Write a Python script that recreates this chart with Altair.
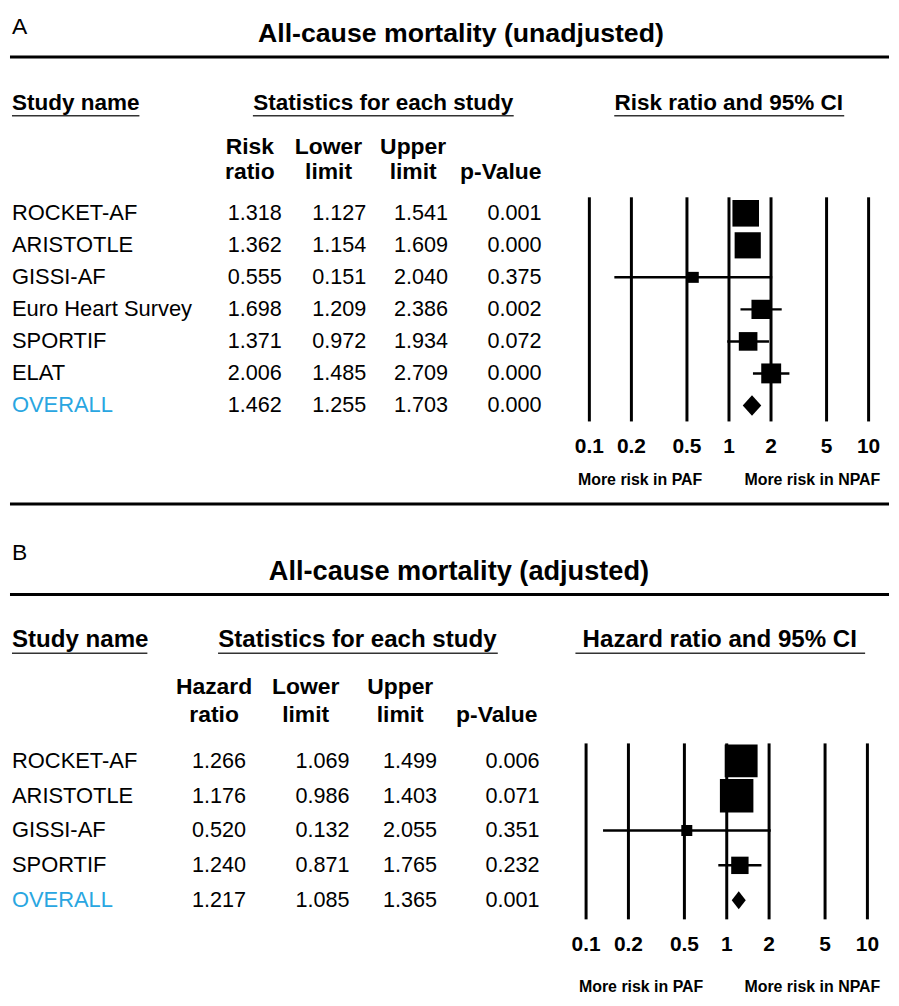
import altair as alt
import pandas as pd

# ---------------- data (panel A: unadjusted) ----------------
studies_a = ["ROCKET-AF", "ARISTOTLE", "GISSI-AF", "Euro Heart Survey", "SPORTIF", "ELAT", "OVERALL"]
rr_a = [1.318, 1.362, 0.555, 1.698, 1.371, 2.006, 1.462]
lo_a = [1.127, 1.154, 0.151, 1.209, 0.972, 1.485, 1.255]
hi_a = [1.541, 1.609, 2.040, 2.386, 1.934, 2.709, 1.703]
p_a = [0.001, 0.000, 0.375, 0.002, 0.072, 0.000, 0.000]
weight_a = [26.9, 26.1, 4.6, 14.1, 13.2, 15.1]  # relative weight (%)

# ---------------- data (panel B: adjusted) ----------------
studies_b = ["ROCKET-AF", "ARISTOTLE", "GISSI-AF", "SPORTIF", "OVERALL"]
hr_b = [1.266, 1.176, 0.520, 1.240, 1.217]
lo_b = [1.069, 0.986, 0.132, 0.871, 1.085]
hi_b = [1.499, 1.403, 2.055, 1.765, 1.365]
p_b = [0.006, 0.071, 0.351, 0.232, 0.001]
weight_b = [41.2, 42.7, 4.6, 11.5]

ticks = [0.1, 0.2, 0.5, 1, 2, 5, 10]
tick_labels = ["0.1", "0.2", "0.5", "1", "2", "5", "10"]

SANS = "'Liberation Sans', Arial, sans-serif"
BLUE = "#29a6e1"
W = 883

one = pd.DataFrame({"k": [0]})


def txt(s, x, y, size, bold=False, align="left", color="black"):
    return alt.Chart(one).mark_text(
        text=s, align=align, baseline="middle", fontSize=size,
        fontWeight="bold" if bold else "normal", font=SANS, color=color
    ).encode(x=alt.value(x), y=alt.value(y))


def hline(x1, x2, y, w, color="black"):
    return alt.Chart(one).mark_rule(strokeWidth=w, color=color).encode(
        x=alt.value(x1), x2=alt.value(x2), y=alt.value(y))


def panel(letter, title, ci_hdr, col1, studies, est, lo, hi, p, weight, L):
    n = len(studies)
    df = pd.DataFrame({"study": studies, "row": list(range(n)), "est": est,
                       "lo": lo, "hi": hi, "p": p})
    sdf = df[df.study != "OVERALL"].copy()
    sdf["w"] = weight
    ov = df[df.study == "OVERALL"].iloc[0]
    r, h = ov["row"], L["dh"]
    dia = pd.DataFrame({"x": [ov["lo"], ov["est"], ov["hi"]],
                        "ya": [r, r - h, r], "yb": [r, r + h, r]})
    tdf = pd.DataFrame({"t": ticks, "lab": tick_labels})

    ys = alt.Scale(domain=[0, n - 1], range=L["rows"], nice=False, zero=False)
    xs = alt.Scale(type="log", domain=[0.1, 10], range=L["xr"], nice=False)
    Y = alt.Y("row:Q", scale=ys, axis=None)
    hs = L["hs"]
    cs = 23

    layers = [
        txt(letter, 2, L["letter_y"], 23),
        txt(title, L["title_x"], L["title_y"], L["ts"], bold=True, align="center"),
        hline(0, W, L["line1"], 3),
        txt("Study name", 2, L["hdr_y"], hs, bold=True),
        txt("Statistics for each study", L["stat_x"], L["hdr_y"], hs, bold=True, align="center"),
        txt(ci_hdr, L["ci_x"], L["hdr_y"], hs, bold=True, align="center"),
        hline(L["ul1"][0], L["ul1"][1], L["ul_y"], 1.6, "#333"),
        hline(L["ul2"][0], L["ul2"][1], L["ul_y"], 1.6, "#333"),
        hline(L["ul3"][0], L["ul3"][1], L["ul_y"], 1.6, "#333"),
        txt(col1, L["ch"][0], L["ch_y"][0], cs, bold=True, align="center"),
        txt("ratio", L["ch"][0], L["ch_y"][1], cs, bold=True, align="center"),
        txt("Lower", L["ch"][1], L["ch_y"][0], cs, bold=True, align="center"),
        txt("limit", L["ch"][1], L["ch_y"][1], cs, bold=True, align="center"),
        txt("Upper", L["ch"][2], L["ch_y"][0], cs, bold=True, align="center"),
        txt("limit", L["ch"][2], L["ch_y"][1], cs, bold=True, align="center"),
        txt("p-Value", L["ch"][3], L["ch_y"][1], cs, bold=True, align="center"),
        alt.Chart(df).mark_text(align="left", baseline="middle", font=SANS, fontSize=22).encode(
            x=alt.value(2), y=Y, text="study:N",
            color=alt.condition("datum.study == 'OVERALL'", alt.value(BLUE), alt.value("black"))),
    ]
    for field, xr in zip(["est", "lo", "hi", "p"], L["cols"]):
        layers.append(alt.Chart(df).mark_text(align="right", baseline="middle", font=SANS,
                                              fontSize=21.7, color="black").encode(
            x=alt.value(xr), y=Y, text=alt.Text(f"{field}:Q", format=".3f")))

    X = lambda f: alt.X(f, scale=xs, axis=None)
    layers += [
        alt.Chart(tdf).mark_rule(strokeWidth=3, color="black").encode(
            x=X("t:Q"), y=alt.Y(datum=-0.5, scale=ys, axis=None), y2=alt.Y2(datum=L["gridbot"])),
        alt.Chart(tdf).mark_text(fontWeight="bold", fontSize=21, font=SANS, baseline="middle",
                                 color="black").encode(
            x=X("t:Q"), y=alt.value(L["tick_y"]), text="lab:N"),
        alt.Chart(sdf).mark_rule(strokeWidth=2.5, color="black").encode(
            x=X("lo:Q"), x2="hi:Q", y=Y),
        alt.Chart(sdf).mark_point(shape="square", filled=True, opacity=1, color="black",
                                  strokeWidth=0).encode(
            x=X("est:Q"), y=Y,
            size=alt.Size("w:Q", scale=alt.Scale(domain=[0, 100], range=[0, L["K"]]), legend=None)),
        alt.Chart(dia).mark_area(color="black", orient="vertical").encode(
            x=X("x:Q"), y=alt.Y("ya:Q", scale=ys, axis=None), y2="yb:Q"),
        txt("More risk in PAF", L["mr"][0], L["mr_y"], 16, bold=True, align="center"),
        txt("More risk in NPAF", L["mr"][1], L["mr_y"], 16, bold=True, align="center"),
    ]
    if L.get("line2") is not None:
        layers.append(hline(0, W, L["line2"], 3))
    return alt.layer(*layers).properties(width=W, height=L["H"])


LA = dict(H=518, letter_y=17, title_x=453, title_y=24, ts=26.8, line1=47, hdr_y=93, hs=22.6,
          stat_x=375, ci_x=722,
          ul_y=106, ul1=(2, 130), ul2=(244, 506), ul3=(607, 838),
          ch=(241, 320, 405, 493), ch_y=(137, 163), cols=(273, 358, 440, 534),
          rows=[204, 397], xr=[582, 862.5], gridbot=6.5, tick_y=438.7,
          mr=(633, 806), mr_y=472, line2=496, K=2650, dh=0.32)

LB = dict(H=470, letter_y=27, title_x=451, title_y=46, ts=27.3, line1=69, hdr_y=115, hs=24.2,
          stat_x=349, ci_x=713,
          ul_y=128, ul1=(2, 138), ul2=(209, 490), ul3=(568, 859),
          ch=(205, 297, 392, 489), ch_y=(162, 190), cols=(237, 341, 429, 532),
          rows=[236, 376], xr=[578.7, 861.3], gridbot=4.55, tick_y=420.7,
          mr=(634, 806), mr_y=463, line2=None, K=1770, dh=0.26)

pA = panel("A", "All-cause mortality (unadjusted)", "Risk ratio and 95% CI", "Risk",
           studies_a, rr_a, lo_a, hi_a, p_a, weight_a, LA)
pB = panel("B", "All-cause mortality (adjusted)", "Hazard ratio and 95% CI", "Hazard",
           studies_b, hr_b, lo_b, hi_b, p_b, weight_b, LB)

chart = alt.vconcat(pA, pB, spacing=0, bounds="flush").properties(padding=0).configure_view(stroke=None)
chart.save("out.html", embed_options={"renderer": "svg", "actions": False})
